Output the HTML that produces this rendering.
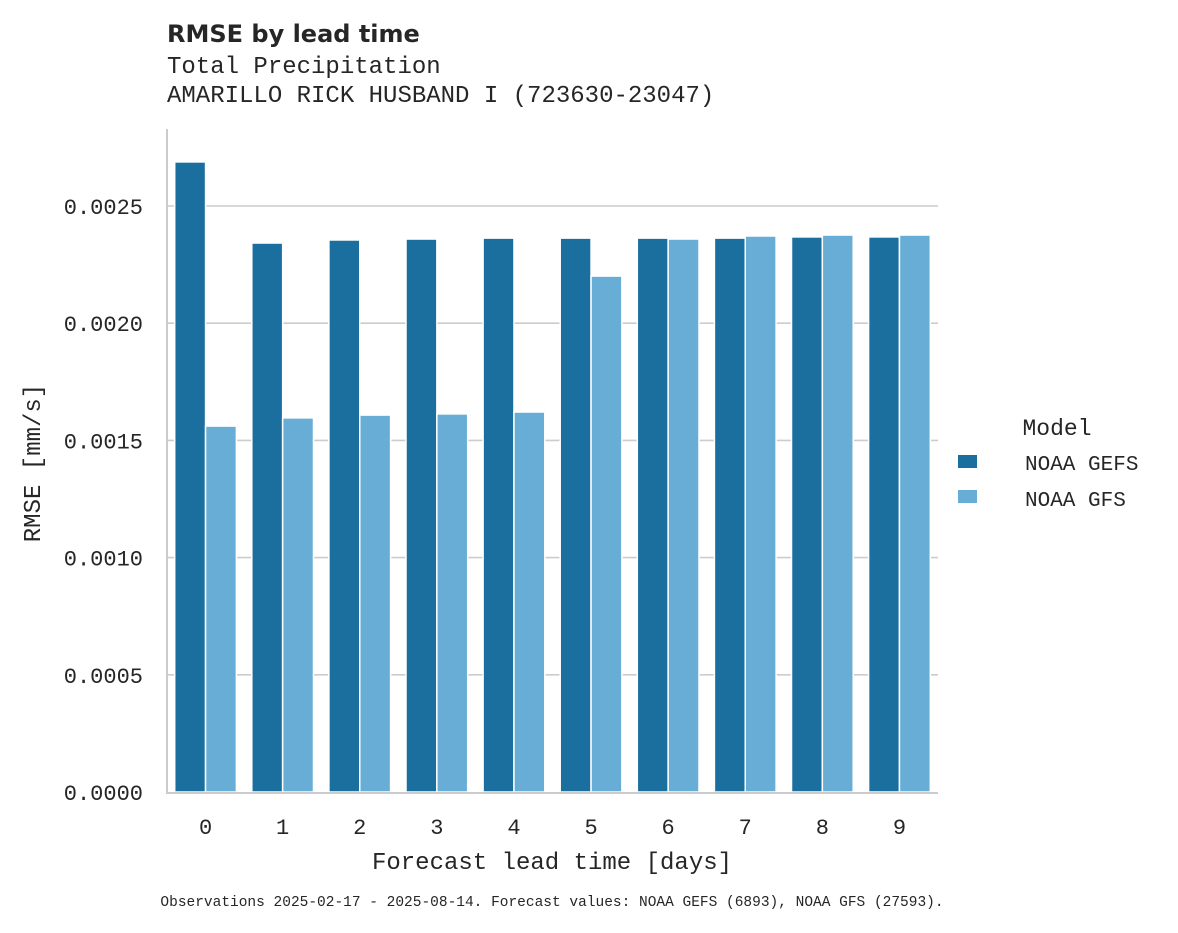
<!DOCTYPE html>
<html><head><meta charset="utf-8"><style>
body{margin:0;background:#fff;}
svg text{fill:#262626;}
.mono{font-family:"Liberation Mono",monospace;}
</style></head><body>
<svg id="chart" width="1178" height="928" xmlns="http://www.w3.org/2000/svg">
<text x="167" y="42" font-family="DejaVu Sans, sans-serif" font-weight="bold" font-size="24">RMSE by lead time</text>
<text class="mono" x="167" y="73" font-size="24">Total Precipitation</text>
<text class="mono" x="167" y="102" font-size="24">AMARILLO RICK HUSBAND I (723630-23047)</text>
<g id="grid"></g>
<g id="bars"></g>
<g id="axes"></g>
<text class="mono" font-size="24" transform="translate(40,463) rotate(-90)" text-anchor="middle">RMSE [mm/s]</text>
<text class="mono" font-size="24" x="552" y="869" text-anchor="middle">Forecast lead time [days]</text>
<g>
<text class="mono" font-size="23" x="1057" y="435" text-anchor="middle">Model</text>
<rect x="958" y="455" width="19" height="13" fill="#1a6f9e"/>
<text class="mono" font-size="21" x="1025" y="470">NOAA GEFS</text>
<rect x="958" y="490" width="19" height="13" fill="#67add5"/>
<text class="mono" font-size="21" x="1025" y="506">NOAA GFS</text>
</g>
<text class="mono" font-size="14.5" x="552" y="906" text-anchor="middle">Observations 2025-02-17 - 2025-08-14. Forecast values: NOAA GEFS (6893), NOAA GFS (27593).</text>
</svg>
<script>
const categories=["0","1","2","3","4","5","6","7","8","9"];
const gefsValues=[0.002688,0.002342,0.002355,0.002359,0.002363,0.002363,0.002363,0.002363,0.002368,0.002368];
const gfsValues=[0.001561,0.001596,0.001608,0.001613,0.001621,0.002201,0.002359,0.002372,0.002376,0.002376];
const yTicks=[0,0.0005,0.001,0.0015,0.002,0.0025];
const yTickLabels=["0.0000","0.0005","0.0010","0.0015","0.0020","0.0025"];
const NS="http://www.w3.org/2000/svg";
const x0=167,x1=938,yBase=792,pxPerUnit=(792-206)/0.0025;
const y=v=>yBase-v*pxPerUnit;
const band=(x1-x0)/categories.length;
const xc=i=>x0+band*(i+0.5);
function mk(tag,attrs,parent){const e=document.createElementNS(NS,tag);for(const k in attrs)e.setAttribute(k,attrs[k]);parent.appendChild(e);return e;}
const grid=document.getElementById('grid'),bars=document.getElementById('bars'),axes=document.getElementById('axes');
yTicks.forEach((t,i)=>{
  if(t>0){const l=mk('line',{x1:x0,x2:x1,y1:y(t),y2:y(t),stroke:'#cccccc','stroke-width':1.6},grid);
  
  }
  const tx=mk('text',{x:143,y:y(t)+8,'text-anchor':'end','font-size':22,class:'mono'},axes);
  tx.textContent=yTickLabels[i];
  
  
});
const bw=band*0.8/2;
categories.forEach((c,i)=>{
  const g=mk('rect',{x:xc(i)-bw,y:y(gefsValues[i]),width:bw,height:yBase-y(gefsValues[i]),fill:'#1a6f9e',stroke:'#fff','stroke-width':1.5},bars);
  
  
  const f=mk('rect',{x:xc(i),y:y(gfsValues[i]),width:bw,height:yBase-y(gfsValues[i]),fill:'#67add5',stroke:'#fff','stroke-width':1.5},bars);
  
  
  const tx=mk('text',{x:xc(i),y:834,'text-anchor':'middle','font-size':22,class:'mono'},axes);
  tx.textContent=c;
  
  
});
const ya=mk('line',{x1:x0,x2:x0,y1:129,y2:yBase+1,stroke:'#cccccc','stroke-width':2},axes);


const xa=mk('line',{x1:x0-1,x2:x1,y1:yBase+1,y2:yBase+1,stroke:'#cccccc','stroke-width':2},axes);


</script>
</body></html>
